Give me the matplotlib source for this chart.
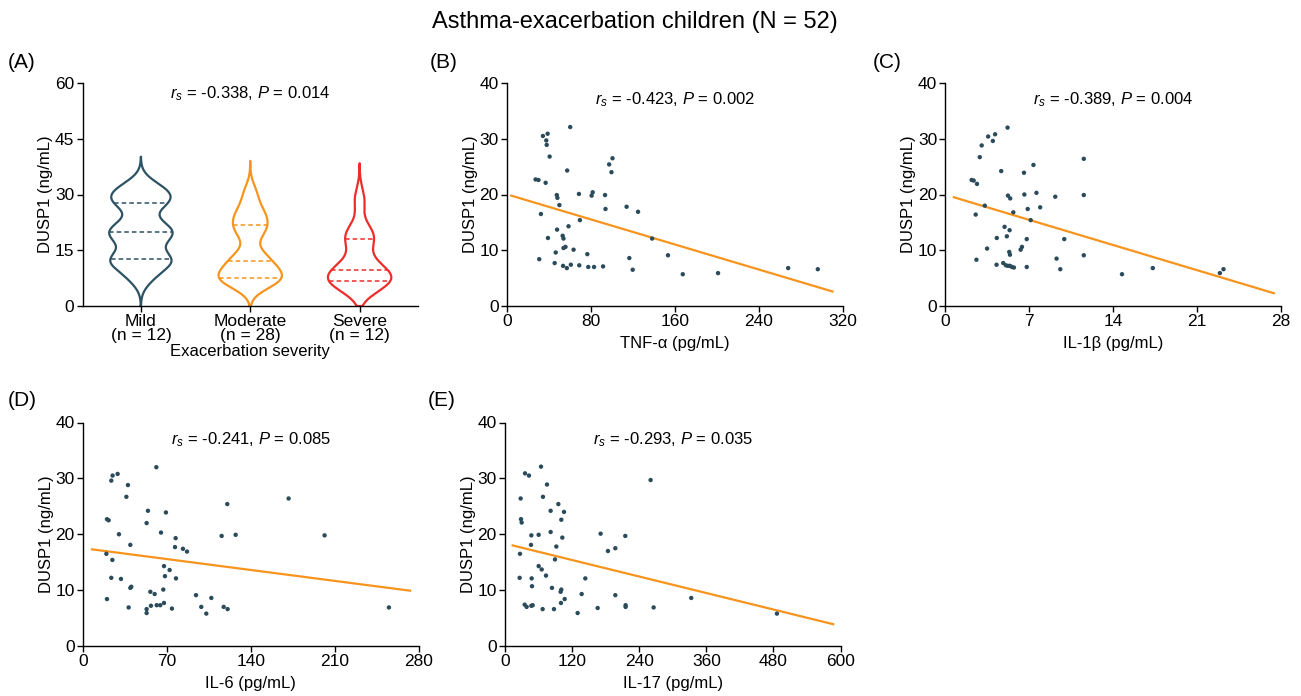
import numpy as np
import matplotlib
matplotlib.use("Agg")
import matplotlib.pyplot as plt

plt.rcParams["font.family"] = ["Liberation Sans", "DejaVu Sans"]
plt.rcParams["mathtext.fontset"] = "custom"
plt.rcParams["mathtext.rm"] = "Liberation Sans"
plt.rcParams["mathtext.it"] = "Liberation Sans:italic"
plt.rcParams["axes.linewidth"] = 1.0

# --- data ---
severity = ["Mild", "Moderate", "Severe"]
severity_n = [12, 28, 12]
dusp1_mild = [7.8, 11.6, 12.4, 12.9, 17.6, 19.5, 20.1, 22.1, 27.5, 28.3, 30.4, 32.1]
dusp1_moderate = [5.8, 6.6, 6.8, 7.0, 7.0, 7.2, 7.3, 7.6, 8.4, 9.1, 10.1, 10.6, 11.8, 12.0,
                  12.4, 13.7, 14.3, 19.6, 19.9, 20.1, 21.8, 22.3, 23.9, 24.3, 25.4, 26.5, 29.7, 31.0]
dusp1_severe = [5.7, 6.5, 6.7, 6.9, 7.3, 9.2, 10.0, 12.1, 17.7, 18.5, 20.0, 28.5]

tnf_x = [27.2, 30.0, 36.8, 34.2, 38.7, 37.4, 37.8, 40.6, 60.2, 57.3, 47.4, 48.0, 49.9, 32.3,
         30.7, 39.0, 47.7, 46.4, 45.4, 53.0, 53.8, 53.8, 55.7, 58.6, 53.4, 57.0, 60.8, 63.4,
         68.5, 69.4, 68.8, 76.5, 77.4, 80.6, 81.6, 82.9, 91.5, 93.4, 93.8, 97.3, 99.5, 100.5,
         113.9, 116.5, 119.7, 124.8, 138.2, 153.3, 167.4, 201.0, 267.8, 296.0]
tnf_y = [22.7, 22.6, 22.1, 30.5, 30.9, 29.7, 28.9, 26.8, 32.1, 24.3, 19.9, 19.4, 18.1, 16.5,
         8.4, 12.2, 13.7, 9.6, 7.7, 12.6, 12.1, 10.4, 10.6, 14.3, 7.2, 6.8, 7.4, 10.1,
         20.1, 15.4, 7.3, 9.3, 7.0, 19.8, 20.4, 7.0, 7.1, 19.9, 17.4, 25.4, 24.0, 26.5,
         17.8, 8.6, 6.5, 16.9, 12.1, 9.1, 5.7, 5.9, 6.8, 6.6]

il1b_x = [2.18, 2.35, 2.63, 2.86, 3.02, 3.56, 3.95, 4.14, 5.18, 4.65, 3.28, 2.52, 2.58, 3.47,
          4.28, 4.26, 4.82, 5.04, 5.21, 5.38, 5.54, 5.71, 4.93, 5.35, 5.12, 5.32, 5.38, 5.21,
          5.40, 5.66, 6.55, 6.58, 6.86, 7.11, 6.78, 6.38, 6.27, 6.78, 7.34, 7.59, 7.90, 9.16,
          9.91, 9.27, 9.58, 11.54, 11.54, 11.54, 14.73, 17.3, 22.9, 23.2]
il1b_y = [22.6, 22.5, 21.9, 26.7, 28.8, 30.4, 29.6, 30.8, 32.0, 24.2, 18.0, 16.4, 8.3, 10.3,
          12.2, 7.4, 7.7, 7.3, 7.2, 7.2, 7.0, 6.9, 14.2, 13.6, 12.5, 9.7, 9.2, 19.8,
          19.3, 16.8, 23.9, 20.0, 17.4, 15.4, 12.0, 10.6, 10.1, 7.0, 25.3, 20.3, 17.7, 19.6,
          12.0, 8.5, 6.6, 26.4, 19.9, 9.1, 5.7, 6.8, 5.9, 6.6]

il6_x = [20.0, 21.4, 23.6, 24.7, 28.9, 37.5, 36.2, 61.2, 54.2, 69.2, 53.1, 30.0, 65.1, 39.5,
         77.3, 76.8, 83.4, 86.8, 19.5, 24.5, 23.6, 31.7, 39.5, 40.3, 20.0, 38.1, 67.6, 72.3,
         68.4, 77.6, 67.0, 56.2, 59.8, 53.1, 53.1, 56.7, 61.5, 64.5, 67.6, 74.2, 94.3, 98.7,
         102.9, 107.1, 117.4, 120.7, 115.7, 120.4, 127.4, 171.6, 201.6, 255.3]
il6_y = [22.7, 22.5, 29.6, 30.5, 30.8, 28.8, 26.7, 32.0, 24.2, 23.9, 22.0, 20.0, 20.3, 18.1,
         19.3, 17.7, 17.4, 16.9, 16.5, 15.4, 12.2, 12.0, 10.4, 10.6, 8.4, 6.9, 14.3, 13.6,
         12.5, 12.1, 10.1, 9.7, 9.3, 6.6, 5.9, 7.2, 7.3, 7.3, 7.7, 6.7, 9.1, 7.0,
         5.8, 8.6, 7.0, 6.6, 19.7, 25.4, 19.9, 26.4, 19.8, 6.9]

il17_x = [26.2, 26.8, 28.0, 28.6, 29.8, 35.8, 42.9, 35.2, 38.7, 47.1, 49.5, 48.3, 47.7, 46.5,
          47.1, 60.2, 64.4, 67.9, 75.1, 60.2, 65.6, 67.3, 73.3, 81.6, 81.6, 89.4, 91.8, 84.0,
          87.6, 95.4, 100.7, 102.5, 105.5, 100.7, 99.5, 106.7, 100.1, 129.9, 137.1, 143.6, 171.0,
          165.7, 184.1, 197.3, 197.3, 215.1, 215.7, 215.7, 260.4, 265.8, 333.1, 486.3]
il17_y = [12.2, 16.5, 26.4, 22.7, 22.1, 30.9, 30.5, 7.4, 7.0, 7.2, 7.3, 10.7, 12.1, 18.1,
          19.8, 19.9, 32.1, 26.7, 28.9, 14.3, 13.7, 6.6, 12.6, 24.2, 20.4, 15.5, 17.8, 10.4,
          6.6, 25.4, 22.6, 19.4, 24.0, 10.1, 9.7, 8.4, 7.7, 5.9, 9.3, 12.1, 20.1,
          6.8, 17.0, 17.5, 9.1, 19.7, 7.3, 7.0, 29.7, 6.9, 8.6, 5.8]

# fitted lines: (x0, x1), (y0, y1)
fit_tnf = ([4, 310], [19.8, 2.6])
fit_il1b = ([0.7, 27.4], [19.5, 2.3])
fit_il6 = ([7.5, 273], [17.3, 9.9])
fit_il17 = ([13.7, 587], [18.0, 3.9])

stats_text = ["-0.338", "0.014", "-0.423", "0.002", "-0.389", "0.004",
              "-0.241", "0.085", "-0.293", "0.035"]

violin_colors = ["#2d5264", "#f7941d", "#ec2d2a"]
dot_color = "#2b4b5a"
line_color = "#f7941d"

W, H = 1301, 696
fig = plt.figure(figsize=(W / 100, H / 100), dpi=100)


def px_axes(x0, x1, ytop, ybot):
    return fig.add_axes([x0 / W, (H - ybot) / H, (x1 - x0) / W, (ybot - ytop) / H])


def style(ax):
    for s in ["top", "right"]:
        ax.spines[s].set_visible(False)
    ax.tick_params(direction="out", length=4, width=1.0, labelsize=12.5, pad=2)


def stat_label(ax, r, p, y=0.925):
    ax.text(0.5, y, r"$\it{r_s}$ = " + r + r", $\it{P}$ = " + p,
            transform=ax.transAxes, ha="center", va="center", fontsize=12)


def kde(vals, grid, bw):
    v = np.asarray(vals)[:, None]
    return np.exp(-0.5 * ((grid[None, :] - v) / bw) ** 2).sum(axis=0)


# --- (A) violins ---
axA = px_axes(82.5, 418, 83, 306)
style(axA)
groups = [dusp1_mild, dusp1_moderate, dusp1_severe]
bws = [2.6, 2.6, 3.2]
for i, (vals, col, bw) in enumerate(zip(groups, violin_colors, bws)):
    pos = i + 1
    lo = max(0.0, min(vals) - 3 * bw)
    hi = max(vals) + 3.1 * bw
    grid = np.linspace(lo, hi, 400)
    dens = kde(vals, grid, bw)
    half = dens / dens.max() * 0.29
    xs = np.concatenate([pos - half, (pos + half)[::-1], [pos - half[0]]])
    ys = np.concatenate([grid, grid[::-1], [grid[0]]])
    axA.plot(xs, ys, color=col, lw=1.6, solid_joinstyle="round")
    for q in np.percentile(vals, [25, 50, 75]):
        hw = np.interp(q, grid, half)
        axA.plot([pos - hw, pos + hw], [q, q], color=col, lw=1.1, ls=(0, (3, 2)))
axA.set_xlim(0.466, 3.534)
axA.set_ylim(0, 60)
axA.set_yticks([0, 15, 30, 45, 60])
axA.set_xticks([1, 2, 3])
axA.set_xticklabels([f"{s}\n(n = {n})" for s, n in zip(severity, severity_n)],
                    linespacing=0.9)
axA.set_xlabel("Exacerbation severity", fontsize=12)
axA.xaxis.set_label_coords(0.5, -0.17)
axA.set_ylabel("DUSP1 (ng/mL)", fontsize=12, labelpad=1)
stat_label(axA, stats_text[0], stats_text[1], y=0.95)


def scatter_panel(ax, x, y, fit, xmax, xticks, xlabel, r, p):
    style(ax)
    ax.scatter(x, y, s=10, color=dot_color, edgecolors="none", zorder=3)
    ax.plot(fit[0], fit[1], color=line_color, lw=1.6, zorder=2)
    ax.set_xlim(0, xmax)
    ax.set_ylim(0, 40)
    ax.set_xticks(xticks)
    ax.set_yticks([0, 10, 20, 30, 40])
    ax.set_xlabel(xlabel, fontsize=12, labelpad=5)
    ax.set_ylabel("DUSP1 (ng/mL)", fontsize=12, labelpad=1)
    stat_label(ax, r, p)


axB = px_axes(507, 843, 83, 306)
scatter_panel(axB, tnf_x, tnf_y, fit_tnf, 320, [0, 80, 160, 240, 320],
              "TNF-α (pg/mL)", stats_text[2], stats_text[3])
axC = px_axes(945.5, 1281, 83, 306)
scatter_panel(axC, il1b_x, il1b_y, fit_il1b, 28, [0, 7, 14, 21, 28],
              "IL-1β (pg/mL)", stats_text[4], stats_text[5])
axD = px_axes(83, 418.5, 422.5, 646)
scatter_panel(axD, il6_x, il6_y, fit_il6, 280, [0, 70, 140, 210, 280],
              "IL-6 (pg/mL)", stats_text[6], stats_text[7])
axE = px_axes(505, 840.5, 422.5, 646)
scatter_panel(axE, il17_x, il17_y, fit_il17, 600, [0, 120, 240, 360, 480, 600],
              "IL-17 (pg/mL)", stats_text[8], stats_text[9])

# panel letters and title
for lab, x, y in [("(A)", 8, 62), ("(B)", 430, 62), ("(C)", 873, 62),
                  ("(D)", 8, 401), ("(E)", 428, 401)]:
    fig.text(x / W, 1 - y / H, lab, fontsize=15, ha="left", va="center")
fig.text(635 / W, 1 - 22 / H, "Asthma-exacerbation children (N = 52)",
         fontsize=17, ha="center", va="center")

fig.savefig("out.png", dpi=100)
